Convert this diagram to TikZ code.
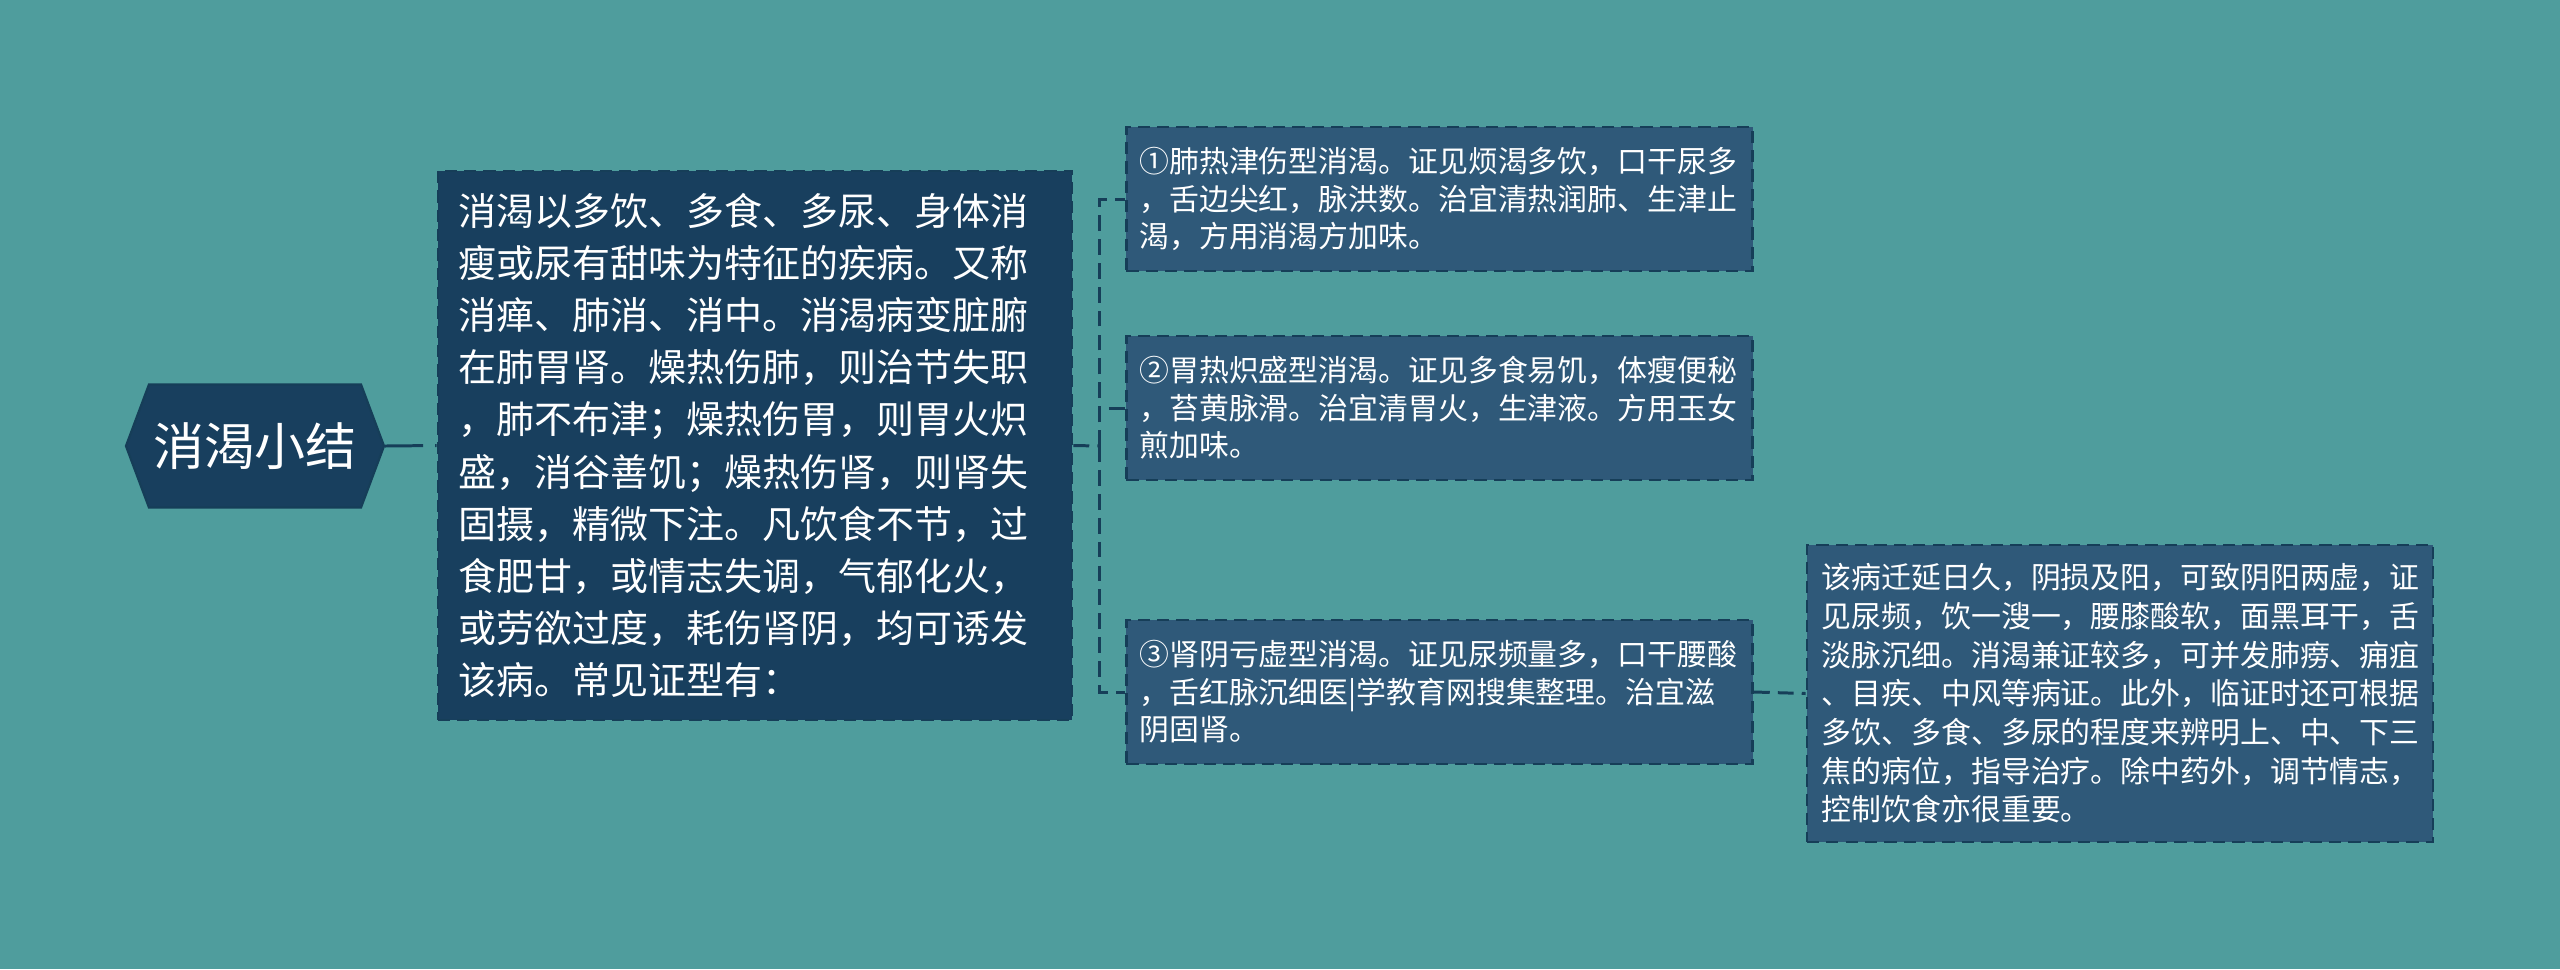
\documentclass[tikz,border=0pt]{standalone}
\usepackage{fontspec}
\newfontfamily\cjk{Noto Sans CJK SC}
\usetikzlibrary{shapes.symbols}
\definecolor{bgteal}{RGB}{79,157,157}
\definecolor{maincol}{RGB}{24,63,94}
\definecolor{childcol}{RGB}{47,89,121}
\definecolor{linecol}{RGB}{22,62,88}
\begin{document}
\begin{tikzpicture}[x=0.01cm,y=-0.01cm,
  topic/.style={signal,signal to=west and east,signal pointer angle=139,
    fill=maincol,draw=linecol,line width=0.6pt,minimum width=2.58cm,minimum height=1.23cm,
    inner sep=0pt,text=white,font=\cjk\fontsize{14.5pt}{17pt}\selectfont},
  mainbox/.style={rectangle,fill=maincol,draw=linecol,line width=0.7pt,dash pattern=on 3.5pt off 2pt,
    text width=5.92cm,inner xsep=0.21cm,minimum height=5.49cm,align=left,
    text=white,font=\cjk\fontsize{10.8pt}{14.8pt}\selectfont},
  leaf/.style={rectangle,fill=childcol,draw=linecol,line width=0.7pt,dash pattern=on 3.5pt off 2pt,
    text width=6.0cm,inner xsep=0.13cm,minimum height=1.44cm,align=left,
    text=white,font=\cjk\fontsize{8.5pt}{10.7pt}\selectfont},
  link/.style={draw=linecol,line width=0.85pt,dash pattern=on 4.5pt off 2.3pt}]
  \useasboundingbox (0,0) rectangle (2560,969);
  \fill[bgteal] (0,0) rectangle (2560,969);
  \node[topic] (a) at (255,446) {消渴小结};
  \node[mainbox] (b) at (755,445.5) {消渴以多饮、多食、多尿、身体消\\瘦或尿有甜味为特征的疾病。又称\\消瘅、肺消、消中。消渴病变脏腑\\在肺胃肾。燥热伤肺，则治节失职\\，肺不布津；燥热伤胃，则胃火炽\\盛，消谷善饥；燥热伤肾，则肾失\\固摄，精微下注。凡饮食不节，过\\食肥甘，或情志失调，气郁化火，\\或劳欲过度，耗伤肾阴，均可诱发\\该病。常见证型有：};
  \node[leaf] (c) at (1439.5,199) {①肺热津伤型消渴。证见烦渴多饮，口干尿多\\，舌边尖红，脉洪数。治宜清热润肺、生津止\\渴，方用消渴方加味。};
  \node[leaf] (d) at (1439.5,408) {②胃热炽盛型消渴。证见多食易饥，体瘦便秘\\，苔黄脉滑。治宜清胃火，生津液。方用玉女\\煎加味。};
  \node[leaf] (e) at (1439.5,692) {③肾阴亏虚型消渴。证见尿频量多，口干腰酸\\，舌红脉沉细医|学教育网搜集整理。治宜滋\\阴固肾。};
  \node[leaf,text width=5.96cm,inner xsep=0.15cm,minimum height=2.97cm,
    font=\cjk\fontsize{8.5pt}{11pt}\selectfont] (f) at (2120,693.5) {该病迁延日久，阴损及阳，可致阴阳两虚，证\\见尿频，饮一溲一，腰膝酸软，面黑耳干，舌\\淡脉沉细。消渴兼证较多，可并发肺痨、痈疽\\、目疾、中风等病证。此外，临证时还可根据\\多饮、多食、多尿的程度来辨明上、中、下三\\焦的病位，指导治疗。除中药外，调节情志，\\控制饮食亦很重要。};
  \coordinate (fork) at (1099,446);
  \draw[link,dash pattern=on 10.8pt off 3.4pt on 1.7pt off 0pt] (a.east) -- (b.west);
  \draw[link] (b.east) -- (fork);
  \draw[link] (fork) |- (c.west);
  \draw[link] (fork) |- (d.west);
  \draw[link] (fork) |- (e.west);
  \draw[link] (e.east) -- (f.west);
\end{tikzpicture}
\end{document}
